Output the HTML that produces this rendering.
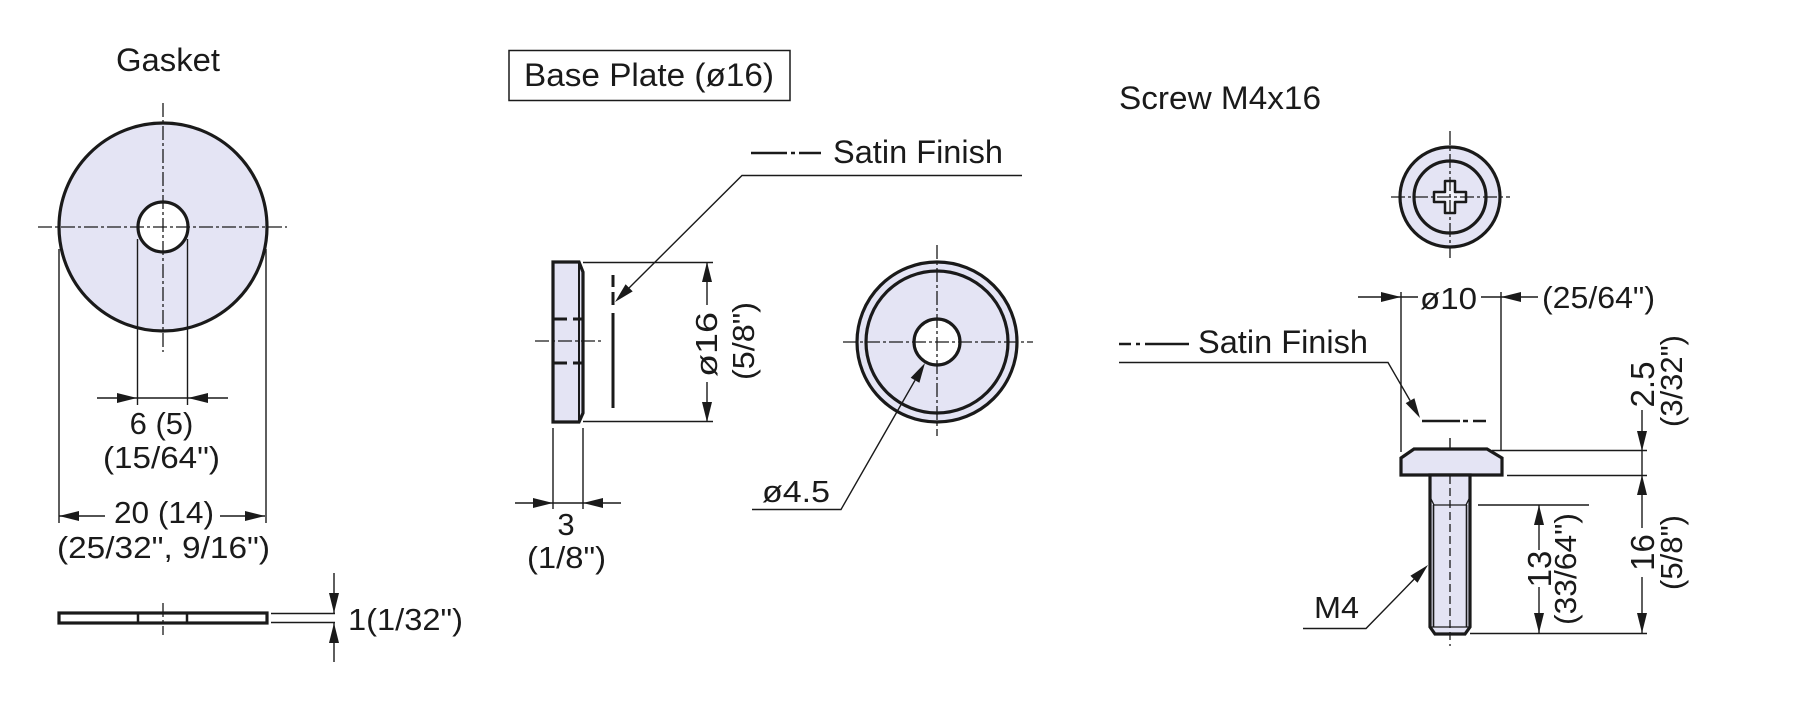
<!DOCTYPE html>
<html><head><meta charset="utf-8"><style>
html,body{margin:0;padding:0;background:#fff;}
svg{display:block;}
text{font-family:"Liberation Sans",Arial,sans-serif;font-size:31px;fill:#1a1a1a;}
.o{stroke:#1a1a1a;stroke-width:3.2;fill:none;}
.t{stroke:#1a1a1a;stroke-width:1.4;fill:none;}
.c{stroke:#1a1a1a;stroke-width:1.3;fill:none;stroke-dasharray:14 3 3 3;}
.h{stroke:#1a1a1a;stroke-width:1.3;fill:none;stroke-dasharray:8 4;}
.a{fill:#1a1a1a;stroke:none;}
.f{fill:#e4e4f4;}
</style></head><body>
<svg width="1800" height="708" viewBox="0 0 1800 708" xmlns="http://www.w3.org/2000/svg">
<rect width="1800" height="708" fill="#fff"/>

<!-- ============ GASKET ============ -->
<text x="168" y="71" text-anchor="middle" textLength="104" lengthAdjust="spacingAndGlyphs" style="font-size:32px">Gasket</text>
<circle cx="163" cy="227" r="104" class="o f"/>
<circle cx="163" cy="227" r="25" class="o" style="fill:#fff"/>
<line x1="163" y1="103" x2="163" y2="352" class="c"/>
<line x1="38" y1="227" x2="287" y2="227" class="c"/>
<line x1="59" y1="249" x2="59" y2="523" class="t"/>
<line x1="266" y1="249" x2="266" y2="523" class="t"/>
<line x1="137.5" y1="239" x2="137.5" y2="405" class="t"/>
<line x1="187.5" y1="239" x2="187.5" y2="405" class="t"/>
<line x1="97" y1="398" x2="228" y2="398" class="t"/>
<polygon class="a" points="137,398 117,393 117,403"/>
<polygon class="a" points="188,398 208,393 208,403"/>
<text x="161.5" y="434" text-anchor="middle">6 (5)</text>
<text x="161.5" y="468" text-anchor="middle" textLength="117" lengthAdjust="spacingAndGlyphs">(15/64")</text>
<line x1="59" y1="516" x2="105" y2="516" class="t"/>
<line x1="220" y1="516" x2="265" y2="516" class="t"/>
<polygon class="a" points="59,516 79,511 79,521"/>
<polygon class="a" points="265,516 245,511 245,521"/>
<text x="164" y="523" text-anchor="middle" textLength="100" lengthAdjust="spacingAndGlyphs">20 (14)</text>
<text x="163.5" y="558" text-anchor="middle" textLength="213" lengthAdjust="spacingAndGlyphs">(25/32", 9/16")</text>
<!-- side view -->
<rect x="59" y="613" width="208" height="10" class="o" style="fill:#fff"/>
<line x1="138" y1="613" x2="138" y2="623" stroke="#1a1a1a" stroke-width="2.5"/>
<line x1="187" y1="613" x2="187" y2="623" stroke="#1a1a1a" stroke-width="2.5"/>
<line x1="163" y1="603" x2="163" y2="635" class="c"/>
<line x1="271" y1="613.5" x2="335" y2="613.5" class="t"/>
<line x1="271" y1="622.5" x2="335" y2="622.5" class="t"/>
<line x1="334" y1="573" x2="334" y2="613" class="t"/>
<line x1="334" y1="623" x2="334" y2="662" class="t"/>
<polygon class="a" points="334,613 329,593 339,593"/>
<polygon class="a" points="334,623 329,643 339,643"/>
<text x="348" y="630" textLength="115" lengthAdjust="spacingAndGlyphs">1(1/32")</text>

<!-- ============ BASE PLATE ============ -->
<rect x="509" y="50.5" width="281" height="50" fill="none" stroke="#1a1a1a" stroke-width="1.5"/>
<text x="524" y="86" textLength="250" lengthAdjust="spacingAndGlyphs" style="font-size:32px">Base Plate (ø16)</text>
<line x1="751" y1="153" x2="787" y2="153" stroke="#1a1a1a" stroke-width="2.5"/>
<line x1="791" y1="153" x2="795" y2="153" stroke="#1a1a1a" stroke-width="2.5"/>
<line x1="799" y1="153" x2="821" y2="153" stroke="#1a1a1a" stroke-width="2.5"/>
<text x="833" y="163" textLength="170" lengthAdjust="spacingAndGlyphs" style="font-size:32px">Satin Finish</text>
<polyline points="1022,175.5 742,175.5 629,288" class="t"/>
<polygon class="a" points="615,302 632.7,291.4 625.6,284.3"/>
<!-- side -->
<polygon points="553,262 579,262 583,272 583,413 579,422 553,422" class="o f"/>
<line x1="579" y1="262" x2="579" y2="422" stroke="#1a1a1a" stroke-width="2"/>
<g stroke="#1a1a1a" stroke-width="3">
<line x1="553" y1="319" x2="567" y2="319"/><line x1="573" y1="319" x2="583" y2="319"/>
<line x1="553" y1="363" x2="567" y2="363"/><line x1="573" y1="363" x2="583" y2="363"/>
<line x1="613" y1="275" x2="613" y2="287"/><line x1="613" y1="292" x2="613" y2="305"/><line x1="613" y1="313" x2="613" y2="408"/>
</g>
<line x1="535" y1="341" x2="602" y2="341" class="c"/>
<line x1="583" y1="262.5" x2="713" y2="262.5" class="t"/>
<line x1="583" y1="421.5" x2="713" y2="421.5" class="t"/>
<line x1="707" y1="262" x2="707" y2="305" class="t"/>
<line x1="707" y1="382" x2="707" y2="422" class="t"/>
<polygon class="a" points="707,262 702,282 712,282"/>
<polygon class="a" points="707,422 702,402 712,402"/>
<text transform="translate(717,344.5) rotate(-90)" text-anchor="middle" textLength="65" lengthAdjust="spacingAndGlyphs">ø16</text>
<text transform="translate(754,341) rotate(-90)" text-anchor="middle" textLength="78" lengthAdjust="spacingAndGlyphs">(5/8")</text>
<line x1="553" y1="428" x2="553" y2="509" class="t"/>
<line x1="583" y1="428" x2="583" y2="509" class="t"/>
<line x1="515" y1="503" x2="621" y2="503" class="t"/>
<polygon class="a" points="553,503 533,498 533,508"/>
<polygon class="a" points="583,503 603,498 603,508"/>
<text x="566" y="535" text-anchor="middle">3</text>
<text x="566.5" y="568" text-anchor="middle" textLength="79" lengthAdjust="spacingAndGlyphs">(1/8")</text>
<!-- front -->
<circle cx="937" cy="342" r="80" class="o f"/>
<circle cx="937" cy="342" r="71" class="o"/>
<circle cx="937" cy="342" r="23" class="o" style="fill:#fff"/>
<line x1="937" y1="245" x2="937" y2="436" class="c"/>
<line x1="843" y1="342" x2="1033" y2="342" class="c"/>
<polyline points="752,509.5 841,509.5 915,380.3" class="t"/>
<polygon class="a" points="925,363 919.4,382.8 910.7,377.8"/>
<text x="762" y="502" textLength="68" lengthAdjust="spacingAndGlyphs">ø4.5</text>

<!-- ============ SCREW ============ -->
<text x="1119" y="109" textLength="202" lengthAdjust="spacingAndGlyphs" style="font-size:32px">Screw M4x16</text>
<circle cx="1450" cy="197" r="50" class="o f"/>
<circle cx="1450" cy="197" r="36" class="o"/>
<path d="M1445,181 L1455,181 L1455,192 L1466,192 L1466,202 L1455,202 L1455,213 L1445,213 L1445,202 L1434,202 L1434,192 L1445,192 Z" stroke="#1a1a1a" stroke-width="2.5" fill="#f2f2fa" stroke-linejoin="round"/>
<line x1="1450" y1="131" x2="1450" y2="258" class="c"/>
<line x1="1391" y1="197" x2="1510" y2="197" class="c"/>
<!-- ø10 -->
<line x1="1401" y1="292" x2="1401" y2="452" class="t"/>
<line x1="1501" y1="292" x2="1501" y2="450" class="t"/>
<line x1="1358" y1="297" x2="1418" y2="297" class="t"/>
<line x1="1481" y1="297" x2="1538" y2="297" class="t"/>
<polygon class="a" points="1401,297 1381,292 1381,302"/>
<polygon class="a" points="1501,297 1521,292 1521,302"/>
<text x="1420" y="309" textLength="57" lengthAdjust="spacingAndGlyphs">ø10</text>
<text x="1542" y="308" textLength="113" lengthAdjust="spacingAndGlyphs">(25/64")</text>
<!-- satin -->
<line x1="1119" y1="344" x2="1131" y2="344" stroke="#1a1a1a" stroke-width="2.5"/>
<line x1="1136" y1="344" x2="1140" y2="344" stroke="#1a1a1a" stroke-width="2.5"/>
<line x1="1145" y1="344" x2="1189" y2="344" stroke="#1a1a1a" stroke-width="2.5"/>
<text x="1198" y="353" textLength="170" lengthAdjust="spacingAndGlyphs" style="font-size:32px">Satin Finish</text>
<polyline points="1119,362.5 1388,362.5 1410.1,400.6" class="t"/>
<polygon class="a" points="1420,418 1414.4,398.2 1405.7,403.1"/>
<g stroke="#1a1a1a" stroke-width="2.5">
<line x1="1422" y1="421" x2="1460" y2="421"/><line x1="1463" y1="421" x2="1468" y2="421"/><line x1="1473" y1="421" x2="1486" y2="421"/>
</g>
<!-- head & shank -->
<line x1="1450" y1="438" x2="1450" y2="449" class="t"/>
<polygon points="1414,449 1487,449 1502,458 1502,475 1401,475 1401,458" class="o f"/>
<polygon points="1430,475 1470,475 1470,627 1465,634 1435,634 1430,627" class="o f"/>
<line x1="1430" y1="497" x2="1434" y2="505" stroke="#1a1a1a" stroke-width="1.3"/>
<line x1="1470" y1="497" x2="1466" y2="505" stroke="#1a1a1a" stroke-width="1.3"/>
<line x1="1433" y1="505" x2="1467" y2="505" stroke="#1a1a1a" stroke-width="1.3"/>
<line x1="1433.5" y1="505" x2="1433.5" y2="627" stroke="#1a1a1a" stroke-width="1.6"/>
<line x1="1466.5" y1="505" x2="1466.5" y2="627" stroke="#1a1a1a" stroke-width="1.6"/>
<line x1="1430" y1="627" x2="1470" y2="627" stroke="#1a1a1a" stroke-width="1.3"/>
<line x1="1450" y1="476" x2="1450" y2="646" class="h"/>
<!-- right dims -->
<line x1="1492" y1="450.5" x2="1647" y2="450.5" class="t"/>
<line x1="1507" y1="475.5" x2="1647" y2="475.5" class="t"/>
<line x1="1470" y1="633.5" x2="1647" y2="633.5" class="t"/>
<line x1="1478" y1="505" x2="1589" y2="505" class="t"/>
<line x1="1642" y1="410" x2="1642" y2="528" class="t"/>
<line x1="1642" y1="577" x2="1642" y2="633" class="t"/>
<polygon class="a" points="1642,451 1637,431 1647,431"/>
<polygon class="a" points="1642,475 1637,495 1647,495"/>
<polygon class="a" points="1642,633 1637,613 1647,613"/>
<text transform="translate(1654,384.5) rotate(-90)" text-anchor="middle" style="font-size:33px">2.5</text>
<text transform="translate(1682,381) rotate(-90)" text-anchor="middle" textLength="92" lengthAdjust="spacingAndGlyphs">(3/32")</text>
<text transform="translate(1654,552.5) rotate(-90)" text-anchor="middle" style="font-size:33px">16</text>
<text transform="translate(1682,552.5) rotate(-90)" text-anchor="middle" textLength="75" lengthAdjust="spacingAndGlyphs">(5/8")</text>
<line x1="1539" y1="505" x2="1539" y2="550" class="t"/>
<line x1="1539" y1="587" x2="1539" y2="633" class="t"/>
<polygon class="a" points="1539,505 1534,525 1544,525"/>
<polygon class="a" points="1539,633 1534,613 1544,613"/>
<text transform="translate(1551,569) rotate(-90)" text-anchor="middle" style="font-size:33px">13</text>
<text transform="translate(1576,569) rotate(-90)" text-anchor="middle" textLength="112" lengthAdjust="spacingAndGlyphs">(33/64")</text>
<!-- M4 -->
<polyline points="1303,628.5 1366,628.5 1414,579.3" class="t"/>
<polygon class="a" points="1428,565 1417.5,582.8 1410.4,575.8"/>
<text x="1314" y="618" textLength="45" lengthAdjust="spacingAndGlyphs">M4</text>
</svg>
</body></html>
